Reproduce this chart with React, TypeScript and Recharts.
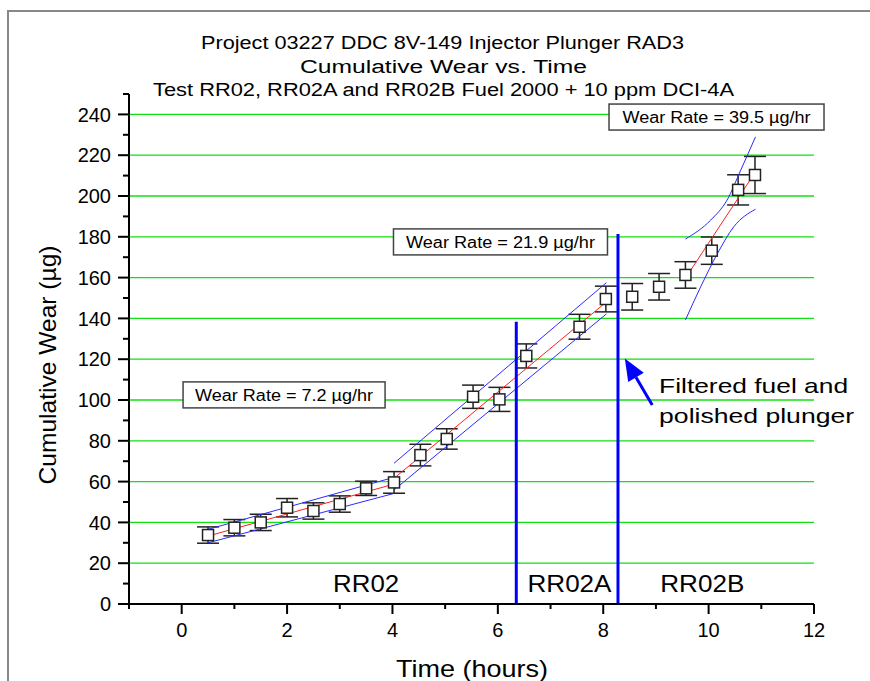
import React from "react";
import {
  ComposedChart,
  Scatter,
  Line,
  XAxis,
  YAxis,
  ErrorBar,
  ReferenceLine,
  ReferenceDot,
} from "recharts";

// measured wear points (hours, µg, ± error)
const hours = [0.5, 1.0, 1.5, 2.0, 2.5, 3.0, 3.5, 4.03, 4.53, 5.03, 5.53, 6.03, 6.54, 7.55, 8.05, 8.55, 9.06, 9.56, 10.06, 10.56, 10.88];
const wear = [33.8, 37.4, 40.0, 47.2, 45.6, 49.0, 56.7, 59.6, 73.0, 80.9, 101.6, 100.3, 121.6, 135.9, 149.5, 150.6, 155.5, 161.3, 173.2, 203.0, 210.3];
const wearErr = [4, 4, 4, 4.5, 4, 4, 3.5, 5.3, 5.3, 5, 5.7, 5.9, 5.9, 6.1, 6.3, 6.5, 6.5, 6.5, 6.7, 7.4, 9.1];

// linear fits (red) per test section
const fit1X = [0.5, 4.03];
const fit1Y = [33.3, 58.8];
const fit2X = [4.03, 8.14];
const fit2Y = [61.6, 149.8];
const fit3X = [9.56, 10.89];
const fit3Y = [159.7, 211.9];

// confidence bands (blue)
const band1X = [0.5, 4.03];
const band1Hi = [36.6, 62.1];
const band1Lo = [30.0, 54.2];
const band2X = [4.03, 8.06];
const band2Hi = [69.0, 157.5];
const band2Lo = [55.9, 142.2];
const band3HiX = [9.56, 10.04, 10.35, 10.61, 10.89];
const band3Hi = [178.9, 188.2, 198.0, 212.7, 229.0];
const band3LoX = [9.56, 9.85, 10.17, 10.48, 10.89];
const band3Lo = [139.2, 155.5, 171.9, 185.0, 193.5];

// section boundaries
const breakX = [6.35, 8.28];
const breakTop = [138.4, 181.4];

const xTicks = [-1, 0, 1, 2, 3, 4, 5, 6, 7, 8, 9, 10, 11, 12];
const yTicks = [0, 10, 20, 30, 40, 50, 60, 70, 80, 90, 100, 110, 120, 130, 140, 150, 160, 170, 180, 190, 200, 210, 220, 230, 240, 250];
const gridValues = [20, 40, 60, 80, 100, 120, 140, 160, 180, 200, 220, 240];

const rateLabels = ["Wear Rate = 7.2 µg/hr", "Wear Rate = 21.9 µg/hr", "Wear Rate = 39.5 µg/hr"];
const rateAt = [
  { x: 1.943, y: 102.5, w: 202, tl: 178 },
  { x: 6.05, y: 177.5, w: 214, tl: 189 },
  { x: 10.15, y: 238.7, w: 215, tl: 188 },
];
const sectionNames = ["RR02", "RR02A", "RR02B"];
const sectionAt = [3.5, 7.36, 9.88];
const sectionWidth = [66, 84, 84];

const FONT = "'Liberation Sans', Arial, sans-serif";

const zip = (xs: number[], ys: number[]) => xs.map((x, i) => ({ x, y: ys[i] }));
const points = hours.map((x, i) => ({ x, y: wear[i], err: wearErr[i] }));

const YTick = (props: any) => {
  const { x, y, payload } = props;
  const v = payload.value;
  const major = v % 20 === 0;
  return (
    <g>
      <line x1={x} x2={x - (major ? 11 : 6)} y1={y} y2={y} stroke="#000" strokeWidth={2} />
      {major && (
        <text x={x - 18} y={y} dy="0.36em" textAnchor="end" fontSize={20} fontFamily={FONT} fill="#000">
          {v}
        </text>
      )}
    </g>
  );
};

const XTick = (props: any) => {
  const { x, y, payload } = props;
  const v = payload.value;
  const major = v % 2 === 0;
  return (
    <g>
      <line x1={x} x2={x} y1={y} y2={y + (major ? 10 : 5)} stroke="#000" strokeWidth={2} />
      {major && (
        <text x={x} y={y + 33} textAnchor="middle" fontSize={20} fontFamily={FONT} fill="#000">
          {v}
        </text>
      )}
    </g>
  );
};

const Square = (props: any) => {
  const { cx, cy } = props;
  if (cx == null || cy == null) return null;
  return <rect x={cx - 5.5} y={cy - 5.5} width={11} height={11} fill="#fff" stroke="#222" strokeWidth={1.5} />;
};

const Arrow = (props: any) => {
  const { x1, y1, x2, y2 } = props;
  const ang = Math.atan2(y2 - y1, x2 - x1);
  const len = 22;
  const half = 9;
  const bx = x2 - len * Math.cos(ang);
  const by = y2 - len * Math.sin(ang);
  const px = -Math.sin(ang) * half;
  const py = Math.cos(ang) * half;
  return (
    <g>
      <line x1={x1} y1={y1} x2={bx} y2={by} stroke="#0000ff" strokeWidth={3} />
      <polygon points={`${x2},${y2} ${bx + px},${by + py} ${bx - px},${by - py}`} fill="#0000ff" />
    </g>
  );
};

export default function App() {
  return (
    <div style={{ position: "absolute", left: 0, top: 0, width: 870, height: 681, background: "#fff", overflow: "hidden" }}>
      <div
        style={{
          position: "absolute",
          left: 7,
          top: 10,
          width: 870,
          height: 681,
          borderTop: "2px solid #888",
          borderLeft: "2px solid #888",
        }}
      />
      <ComposedChart width={870} height={681} margin={{ top: 94, right: 56, bottom: 37, left: 69 }}>
        <XAxis
          type="number"
          dataKey="x"
          domain={[-1, 12]}
          ticks={xTicks}
          interval={0}
          tickSize={0}
          tickMargin={0}
          tickLine={false}
          tick={<XTick />}
          height={40}
          axisLine={{ stroke: "#000", strokeWidth: 2 }}
          allowDataOverflow
        />
        <YAxis
          type="number"
          domain={[0, 250]}
          ticks={yTicks}
          interval={0}
          tickSize={0}
          tickMargin={0}
          tickLine={false}
          tick={<YTick />}
          width={60}
          axisLine={{ stroke: "#000", strokeWidth: 2 }}
          allowDataOverflow
        />
        {gridValues.map((v) => (
          <ReferenceLine key={"g" + v} y={v} stroke="#11e011" strokeWidth={1.3} />
        ))}
        <Scatter data={points} dataKey="y" shape={<Square />} isAnimationActive={false}>
          <ErrorBar dataKey="err" direction="y" width={11} stroke="#222" strokeWidth={1.5} />
        </Scatter>
        <Line data={zip(band1X, band1Hi)} dataKey="y" stroke="#2a2aff" strokeWidth={1} dot={false} isAnimationActive={false} />
        <Line data={zip(band1X, band1Lo)} dataKey="y" stroke="#2a2aff" strokeWidth={1} dot={false} isAnimationActive={false} />
        <Line data={zip(band2X, band2Hi)} dataKey="y" stroke="#2a2aff" strokeWidth={1} dot={false} isAnimationActive={false} />
        <Line data={zip(band2X, band2Lo)} dataKey="y" stroke="#2a2aff" strokeWidth={1} dot={false} isAnimationActive={false} />
        <Line data={zip(band3HiX, band3Hi)} type="monotone" dataKey="y" stroke="#2a2aff" strokeWidth={1} dot={false} isAnimationActive={false} />
        <Line data={zip(band3LoX, band3Lo)} type="monotone" dataKey="y" stroke="#2a2aff" strokeWidth={1} dot={false} isAnimationActive={false} />
        <Line data={zip(fit1X, fit1Y)} dataKey="y" stroke="#ff2020" strokeWidth={1} dot={false} isAnimationActive={false} />
        <Line data={zip(fit2X, fit2Y)} dataKey="y" stroke="#ff2020" strokeWidth={1} dot={false} isAnimationActive={false} />
        <Line data={zip(fit3X, fit3Y)} dataKey="y" stroke="#ff2020" strokeWidth={1} dot={false} isAnimationActive={false} />
        {breakX.map((bx, i) => (
          <ReferenceLine
            key={"b" + i}
            segment={[
              { x: bx, y: 0 },
              { x: bx, y: breakTop[i] },
            ]}
            stroke="#0000ff"
            strokeWidth={3}
          />
        ))}
        <ReferenceLine
          segment={[
            { x: 8.93, y: 97.5 },
            { x: 8.41, y: 120.4 },
          ]}
          shape={<Arrow />}
        />
        {rateLabels.map((t, i) => (
          <ReferenceDot
            key={"r" + i}
            x={rateAt[i].x}
            y={rateAt[i].y}
            r={0}
            shape={(p: any) => (
              <g>
                <rect x={p.cx - rateAt[i].w / 2} y={p.cy - 13} width={rateAt[i].w} height={26} fill="#fff" stroke="#444" strokeWidth={1.5} />
                <text
                  x={p.cx}
                  y={p.cy + 6}
                  textAnchor="middle"
                  fontSize={16}
                  fontFamily={FONT}
                  fill="#000"
                  textLength={rateAt[i].tl}
                  lengthAdjust="spacingAndGlyphs"
                >
                  {t}
                </text>
              </g>
            )}
          />
        ))}
        {sectionNames.map((t, i) => (
          <ReferenceDot
            key={"s" + i}
            x={sectionAt[i]}
            y={5.9}
            r={0}
            shape={(p: any) => (
              <text
                x={p.cx}
                y={p.cy}
                textAnchor="middle"
                fontSize={23}
                fontFamily={FONT}
                fill="#000"
                textLength={sectionWidth[i]}
                lengthAdjust="spacingAndGlyphs"
              >
                {t}
              </text>
            )}
          />
        ))}
        <ReferenceDot
          x={9.06}
          y={103.4}
          r={0}
          shape={(p: any) => (
            <text x={p.cx} y={p.cy} fontSize={21} fontFamily={FONT} fill="#000">
              <tspan x={p.cx} textLength={189} lengthAdjust="spacingAndGlyphs">Filtered fuel and</tspan>
              <tspan x={p.cx} dy={30} textLength={195} lengthAdjust="spacingAndGlyphs">polished plunger</tspan>
            </text>
          )}
        />
      </ComposedChart>
      <svg width={870} height={681} style={{ position: "absolute", left: 0, top: 0, pointerEvents: "none" }}>
        <g fontFamily={FONT} fill="#000" textAnchor="middle">
          <text x={442.5} y={48.5} fontSize={18} textLength={483} lengthAdjust="spacingAndGlyphs">
            Project 03227 DDC 8V-149 Injector Plunger RAD3
          </text>
          <text x={443.5} y={72.5} fontSize={18} textLength={287} lengthAdjust="spacingAndGlyphs">
            Cumulative Wear vs. Time
          </text>
          <text x={443.5} y={95.5} fontSize={18} textLength={581} lengthAdjust="spacingAndGlyphs">
            Test RR02, RR02A and RR02B Fuel 2000 + 10 ppm DCI-4A
          </text>
          <text x={472} y={677} fontSize={24} textLength={152} lengthAdjust="spacingAndGlyphs">
            Time (hours)
          </text>
          <text
            x={0}
            y={0}
            fontSize={24}
            textLength={239}
            lengthAdjust="spacingAndGlyphs"
            transform="translate(56,365) rotate(-90)"
          >
            Cumulative Wear (µg)
          </text>
        </g>
      </svg>
    </div>
  );
}
